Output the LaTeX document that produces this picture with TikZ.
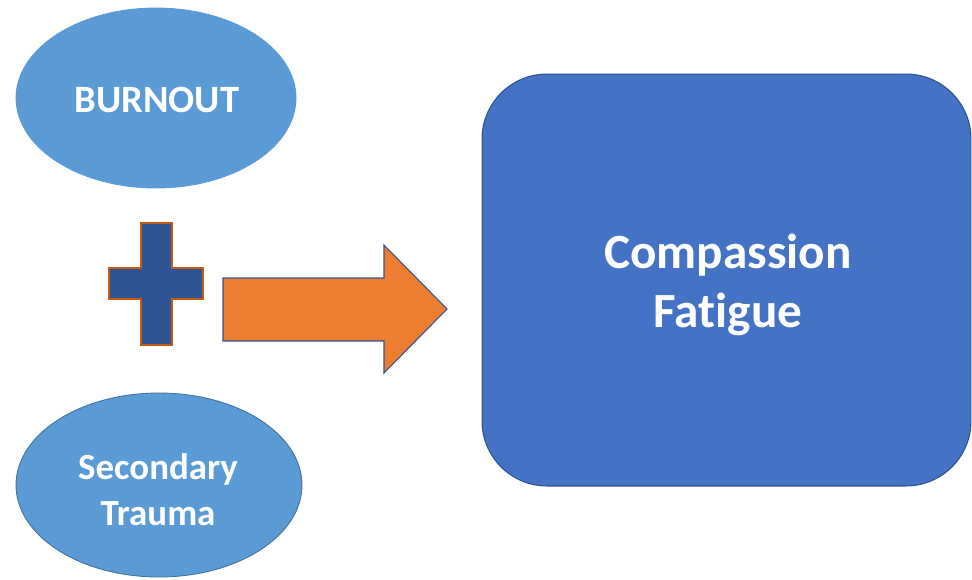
\documentclass[tikz,border=0pt]{standalone}
\usepackage{fontspec}
\setmainfont{Carlito}[Ligatures=CommonOff]
\usetikzlibrary{shapes.geometric}
\definecolor{lightblue}{HTML}{5B9BD5}
\definecolor{edgeblue}{HTML}{41719C}
\definecolor{midblue}{HTML}{4472C4}
\definecolor{darkblue}{HTML}{2F5597}
\definecolor{boxedge}{HTML}{2F528F}
\definecolor{orange}{HTML}{ED7D31}
\definecolor{rust}{HTML}{C55A11}

\begin{document}
\begin{tikzpicture}
[x=0.02cm,y=-0.02cm,every node/.style={text=white,align=center,inner sep=0pt},
oval/.style={ellipse,fill=lightblue,draw=edgeblue,line width=0.5pt}]
\useasboundingbox (0,0) rectangle (972,579);
\node[oval,minimum width=5.6cm,minimum height=3.6cm,draw=lightblue] (burn) at (156,98) {};
\node[oval,minimum width=5.72cm,minimum height=3.68cm] (trauma) at (159,485) {};
\node[rectangle,rounded corners=1.3cm,fill=midblue,draw=boxedge,line width=0.6pt,minimum width=9.78cm,minimum height=8.24cm] (fatigue) at (726.5,280) {};
\node[font=\bfseries\fontsize{22}{26}\selectfont] (burntxt) at (157,100) {BURNOUT};
\node[font=\bfseries\fontsize{21}{26}\selectfont] (traumatxt) at (158,490) {Secondary\\Trauma};
\node[font=\bfseries\fontsize{28}{34}\selectfont] (fatiguetxt) at (728,285) {Compassion\\Fatigue};
% plus sign
\draw[fill=darkblue,draw=rust,line width=0.6pt] (141,223) -- (172,223) -- (172,268) -- (203,268) -- (203,299) -- (172,299) -- (172,345) -- (141,345) -- (141,299) -- (109,299) -- (109,268) -- (141,268) -- cycle;
% arrow
\draw[fill=orange,draw=darkblue,line width=0.6pt] (223,278) -- (384,278) -- (384,245) -- (447,309) -- (384,373) -- (384,341) -- (223,341) -- cycle;
\end{tikzpicture}
\end{document}
